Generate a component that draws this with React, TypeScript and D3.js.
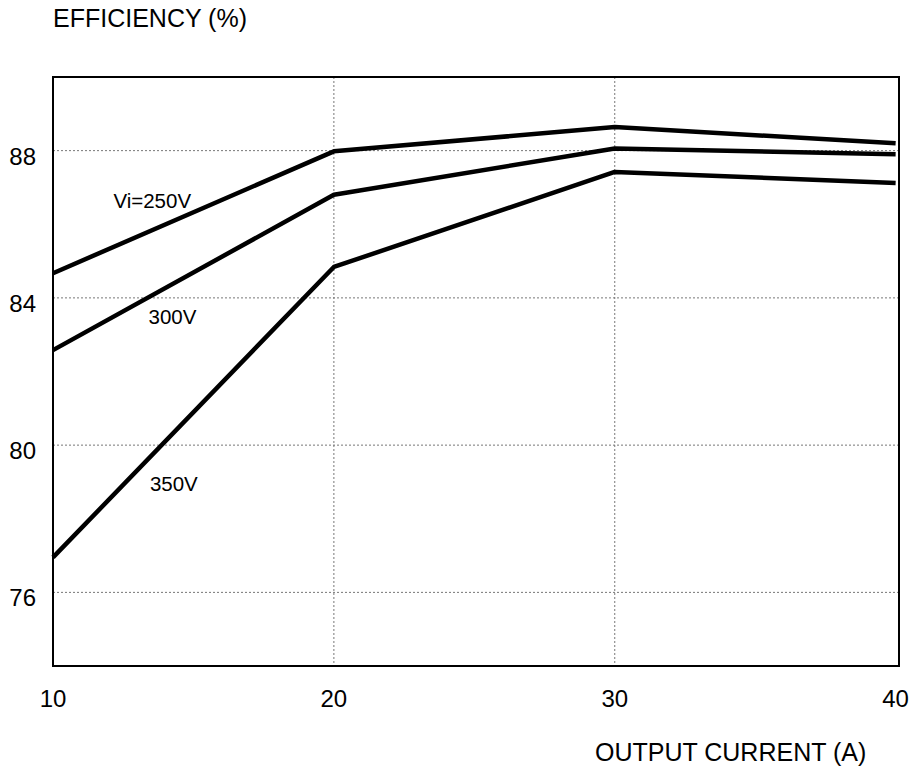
import React from 'react';
import { scaleLinear, line } from 'd3';

// output current (A)
const current = [10, 20, 30, 40];
// efficiency (%) per input voltage
const eff250 = [84.67, 87.98, 88.64, 88.2];
const eff300 = [82.58, 86.8, 88.06, 87.9];
const eff350 = [76.95, 84.84, 87.42, 87.12];
const seriesNames = ['Vi=250V', '300V', '350V'];
const xTicks = [10, 20, 30, 40];
const yTicks = [76, 80, 84, 88];

const W = 914;
const H = 771;
const font = '"Liberation Sans", Arial, Helvetica, sans-serif';

export default function App() {
  const x = scaleLinear().domain([10, 40.12]).range([53, 899]);
  const y = scaleLinear().domain([74, 90]).range([666, 77]);

  const mkLine = line<number>()
    .x((d, i) => x(current[i]))
    .y(d => y(d));

  const series = [eff250, eff300, eff350];
  // label anchor points (in data units) for each curve label
  const labelPos = [
    { cx: 12.15, cy: 86.44 },
    { cx: 13.4, cy: 83.29 },
    { cx: 13.45, cy: 78.75 },
  ];

  const [x0, x1] = x.range();
  const [y0, y1] = y.range();

  return (
    <svg width={W} height={H} style={{ position: 'absolute', left: 0, top: 0, background: '#fff' }}
      fontFamily={font}>
      {/* grid */}
      <g stroke="#777" strokeWidth={1} strokeDasharray="2,2">
        {yTicks.map(t => (
          <line key={'gy' + t} x1={x0} x2={x1} y1={y(t)} y2={y(t)} />
        ))}
        {xTicks.slice(1, -1).map(t => (
          <line key={'gx' + t} x1={x(t)} x2={x(t)} y1={y1} y2={y0} />
        ))}
      </g>

      {/* frame */}
      <rect x={x0} y={y1} width={x1 - x0} height={y0 - y1} fill="none" stroke="#000" strokeWidth={2} />

      {/* curves */}
      {series.map((s, i) => (
        <path key={i} d={mkLine(s) || ''} fill="none" stroke="#000" strokeWidth={4.5}
          strokeLinejoin="round" />
      ))}

      {/* curve labels */}
      {seriesNames.map((n, i) => (
        <text key={n} x={x(labelPos[i].cx)} y={y(labelPos[i].cy)} fontSize={20.5} fill="#000">
          {n}
        </text>
      ))}

      {/* y tick labels */}
      {yTicks.map(t => (
        <text key={'yl' + t} x={36} y={y(t) + 14} textAnchor="end" fontSize={24} fill="#000">
          {t}
        </text>
      ))}

      {/* x tick labels */}
      {xTicks.map(t => (
        <text key={'xl' + t} x={x(t)} y={707} textAnchor="middle" fontSize={24} fill="#000">
          {t}
        </text>
      ))}

      {/* axis titles */}
      <text x={53} y={27} fontSize={25} fill="#000">EFFICIENCY (%)</text>
      <text x={595} y={761} fontSize={25} fill="#000">OUTPUT CURRENT (A)</text>
    </svg>
  );
}
